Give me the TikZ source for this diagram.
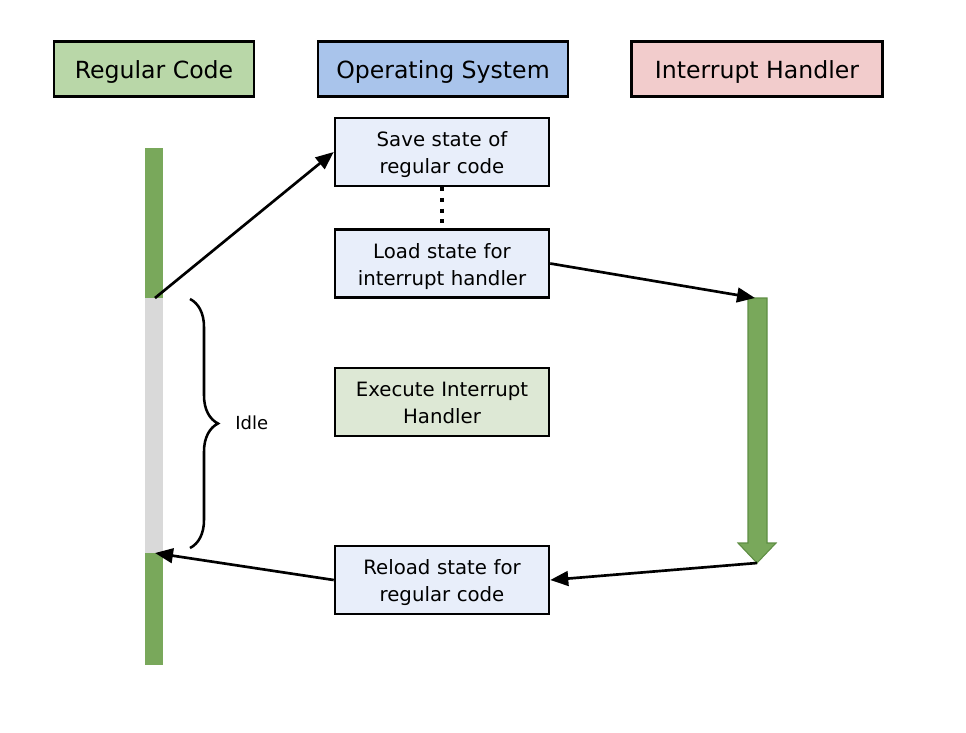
\documentclass[tikz,border=0pt]{standalone}
\usepackage{fontspec}
\setmainfont{DejaVu Sans}
\usetikzlibrary{arrows.meta,decorations.pathreplacing}
\definecolor{hgreen}{HTML}{B9D7A8}
\definecolor{hblue}{HTML}{A9C4EB}
\definecolor{hpink}{HTML}{F2CCCC}
\definecolor{boxblue}{HTML}{E8EEFA}
\definecolor{boxgreen}{HTML}{DDE8D5}
\definecolor{bargreen}{HTML}{79A85B}
\definecolor{bargreendark}{HTML}{5E8E43}
\definecolor{bargray}{HTML}{D9D9D9}
\begin{document}
\begin{tikzpicture}[x=0.75pt,y=-0.75pt,
  header/.style={draw=black,line width=1.9pt,minimum height=41pt,inner sep=0pt,
    text height=18pt,text depth=4.2pt,
    font=\fontsize{17.7}{21}\selectfont},
  stepbox/.style={draw=black,line width=1.9pt,minimum width=160.5pt,minimum height=51pt,
    inner sep=0pt,text width=158pt,align=center,fill=boxblue,
    text height=12pt,text depth=20.2pt,
    font=\fontsize{14.8}{20.25}\selectfont},
  conn/.style={line width=2pt,-{Triangle[length=13.5pt,width=11pt]}},
  plain/.style={line width=1.9pt}
]
\useasboundingbox (0,0) rectangle (966,732);
% headers
\node[header,fill=hgreen,minimum width=150pt] (hrc) at (154,69) {Regular Code};
\node[header,fill=hblue,minimum width=187.5pt] (hos) at (443,69) {Operating System};
\node[header,fill=hpink,minimum width=188pt] (hih) at (757,69) {Interrupt Handler};
% OS boxes
\node[stepbox] (save) at (442,152) {Save state of\\regular code};
\node[stepbox] (load) at (442,263.5) {Load state for\\interrupt handler};
\node[stepbox,fill=boxgreen] (exec) at (442,402) {Execute Interrupt\\Handler};
\node[stepbox] (reload) at (442,580) {Reload state for\\regular code};
% regular code bar
\fill[bargreen] (145,148) rectangle (163,298);
\fill[bargray] (145,298) rectangle (163,553);
\fill[bargreen] (145,553) rectangle (163,665);
\coordinate (rcstop) at (155,298);
\coordinate (rcresume) at (155,553);
% interrupt handler arrow
\fill[bargreen,draw=bargreendark,line width=0.8pt]
  (748,298) -- (767,298) -- (767,543) -- (776,543) -- (757,563) -- (738,543) -- (748,543) -- cycle;
\coordinate (ihtop) at (755,298);
\coordinate (ihtip) at (757,563);
% dotted
\draw[line width=3pt,dash pattern=on 3pt off 5pt] (save.south) -- (load.north);
% connectors
\draw[conn] (rcstop) -- (save.west);
\draw[conn] (load.east) -- (ihtop);
\draw[conn] (ihtip) -- (reload.east);
\draw[conn] (reload.west) -- (rcresume);
% brace
\draw[plain,decorate,decoration={brace,amplitude=21pt}] (190,299) -- (190,548);
\node[anchor=west,inner sep=0pt,font=\fontsize{13.5}{16}\selectfont] (idle) at (235,423) {Idle};
\end{tikzpicture}
\end{document}
